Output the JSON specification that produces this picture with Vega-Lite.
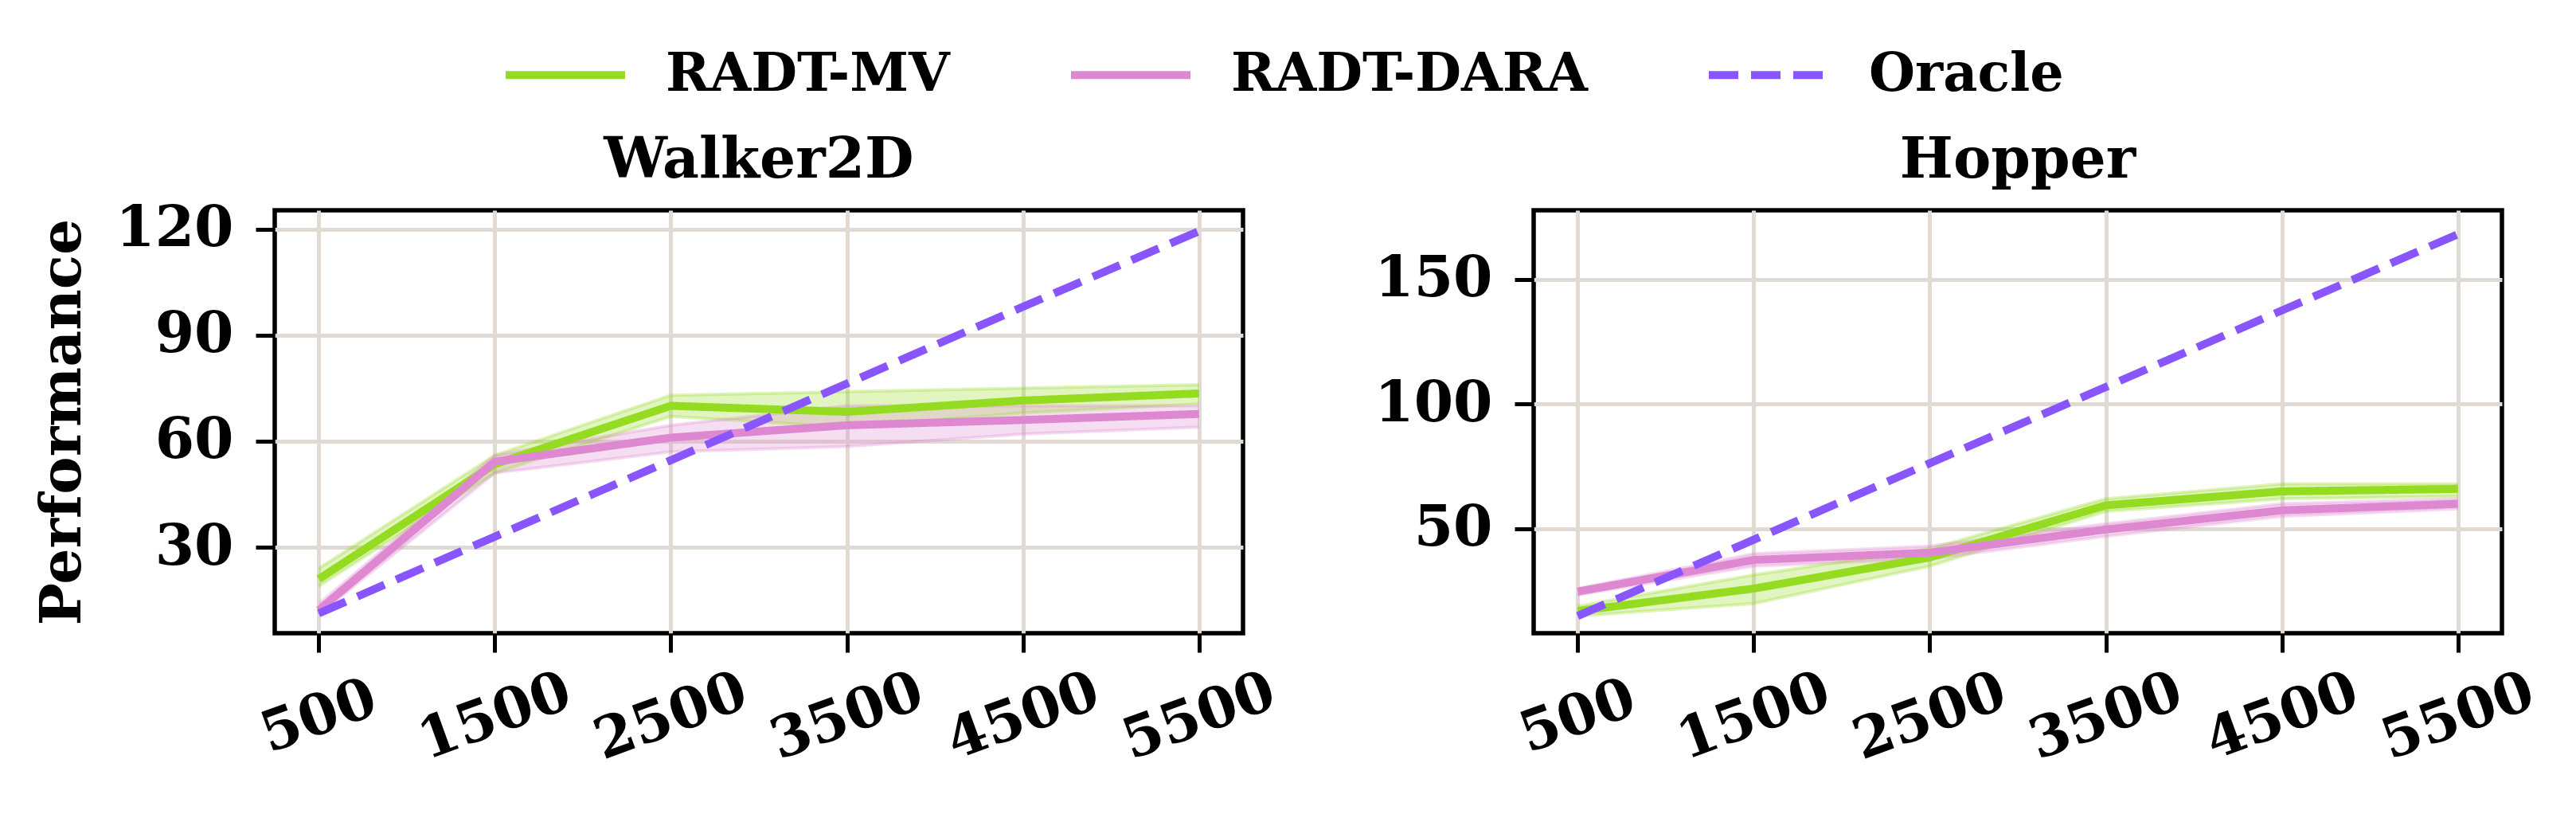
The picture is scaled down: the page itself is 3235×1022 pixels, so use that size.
{
  "$schema": "https://vega.github.io/schema/vega-lite/v6.json",
  "description": "RADT-MV vs RADT-DARA vs Oracle on Walker2D and Hopper",
  "background": "white",
  "padding": {"top": 14, "left": 40, "right": 10, "bottom": 10},
  "data": {
    "values": [
      {"env": "Walker2D", "steps": 500, "series": "RADT-MV", "mean": 21.0, "lo": 19.0, "hi": 24.0},
      {"env": "Walker2D", "steps": 1500, "series": "RADT-MV", "mean": 53.5, "lo": 51.0, "hi": 56.0},
      {"env": "Walker2D", "steps": 2500, "series": "RADT-MV", "mean": 70.0, "lo": 67.0, "hi": 73.0},
      {"env": "Walker2D", "steps": 3500, "series": "RADT-MV", "mean": 68.3, "lo": 64.0, "hi": 74.0},
      {"env": "Walker2D", "steps": 4500, "series": "RADT-MV", "mean": 71.5, "lo": 68.0, "hi": 75.0},
      {"env": "Walker2D", "steps": 5500, "series": "RADT-MV", "mean": 73.5, "lo": 70.5, "hi": 76.0},
      {"env": "Walker2D", "steps": 500, "series": "RADT-DARA", "mean": 12.2, "lo": 11.0, "hi": 14.0},
      {"env": "Walker2D", "steps": 1500, "series": "RADT-DARA", "mean": 54.2, "lo": 51.0, "hi": 56.0},
      {"env": "Walker2D", "steps": 2500, "series": "RADT-DARA", "mean": 61.0, "lo": 57.0, "hi": 64.5},
      {"env": "Walker2D", "steps": 3500, "series": "RADT-DARA", "mean": 64.5, "lo": 58.5, "hi": 70.0},
      {"env": "Walker2D", "steps": 4500, "series": "RADT-DARA", "mean": 66.0, "lo": 62.0, "hi": 70.0},
      {"env": "Walker2D", "steps": 5500, "series": "RADT-DARA", "mean": 67.7, "lo": 64.0, "hi": 70.0},
      {"env": "Walker2D", "steps": 500, "series": "Oracle", "mean": 11.3},
      {"env": "Walker2D", "steps": 1500, "series": "Oracle", "mean": 33.0},
      {"env": "Walker2D", "steps": 2500, "series": "Oracle", "mean": 54.6},
      {"env": "Walker2D", "steps": 3500, "series": "Oracle", "mean": 76.3},
      {"env": "Walker2D", "steps": 4500, "series": "Oracle", "mean": 98.0},
      {"env": "Walker2D", "steps": 5500, "series": "Oracle", "mean": 119.4},
      {"env": "Hopper", "steps": 500, "series": "RADT-MV", "mean": 17.0, "lo": 15.0, "hi": 19.0},
      {"env": "Hopper", "steps": 1500, "series": "RADT-MV", "mean": 26.0, "lo": 20.0, "hi": 31.5},
      {"env": "Hopper", "steps": 2500, "series": "RADT-MV", "mean": 38.5, "lo": 35.0, "hi": 42.0},
      {"env": "Hopper", "steps": 3500, "series": "RADT-MV", "mean": 59.4, "lo": 57.0, "hi": 62.0},
      {"env": "Hopper", "steps": 4500, "series": "RADT-MV", "mean": 65.0, "lo": 62.0, "hi": 68.0},
      {"env": "Hopper", "steps": 5500, "series": "RADT-MV", "mean": 66.0, "lo": 63.0, "hi": 68.0},
      {"env": "Hopper", "steps": 500, "series": "RADT-DARA", "mean": 24.8, "lo": 23.5, "hi": 26.0},
      {"env": "Hopper", "steps": 1500, "series": "RADT-DARA", "mean": 37.5, "lo": 35.0, "hi": 40.0},
      {"env": "Hopper", "steps": 2500, "series": "RADT-DARA", "mean": 40.4, "lo": 38.0, "hi": 43.0},
      {"env": "Hopper", "steps": 3500, "series": "RADT-DARA", "mean": 49.7, "lo": 47.0, "hi": 52.0},
      {"env": "Hopper", "steps": 4500, "series": "RADT-DARA", "mean": 57.4, "lo": 55.0, "hi": 60.0},
      {"env": "Hopper", "steps": 5500, "series": "RADT-DARA", "mean": 60.0, "lo": 58.0, "hi": 62.0},
      {"env": "Hopper", "steps": 500, "series": "Oracle", "mean": 15.0},
      {"env": "Hopper", "steps": 1500, "series": "Oracle", "mean": 45.6},
      {"env": "Hopper", "steps": 2500, "series": "Oracle", "mean": 76.3},
      {"env": "Hopper", "steps": 3500, "series": "Oracle", "mean": 106.9},
      {"env": "Hopper", "steps": 4500, "series": "Oracle", "mean": 137.6},
      {"env": "Hopper", "steps": 5500, "series": "Oracle", "mean": 168.2}
    ]
  },
  "spacing": 365,
  "bounds": "flush",
  "resolve": {"scale": {"y": "independent", "x": "independent"}},
  "hconcat": [
    {
      "title": {"text": "Walker2D", "offset": 14},
      "width": 1216,
      "height": 531,
      "transform": [{"filter": "datum.env === 'Walker2D'"}],
      "layer": [
        {
          "transform": [{"filter": "datum.series !== 'Oracle'"}],
          "mark": {"type": "area", "fillOpacity": 0.28},
          "encoding": {
            "x": {"field": "steps", "type": "quantitative", "scale": {"domain": [250, 5750], "nice": false}},
            "y": {"field": "lo", "type": "quantitative", "scale": {"domain": [5.7, 125.3], "nice": false}},
            "y2": {"field": "hi"},
            "color": {"field": "series", "type": "nominal", "title": null,
                      "scale": {"domain": ["RADT-MV", "RADT-DARA", "Oracle"], "range": ["#95db22", "#dd88d0", "#8855ff"]}}
          }
        },
        {
          "transform": [{"filter": "datum.series !== 'Oracle'"}],
          "mark": {"type": "line", "strokeWidth": 4, "strokeOpacity": 0.3},
          "encoding": {
            "x": {"field": "steps", "type": "quantitative"},
            "y": {"field": "lo", "type": "quantitative"},
            "color": {"field": "series", "type": "nominal", "title": null}
          }
        },
        {
          "transform": [{"filter": "datum.series !== 'Oracle'"}],
          "mark": {"type": "line", "strokeWidth": 4, "strokeOpacity": 0.3},
          "encoding": {
            "x": {"field": "steps", "type": "quantitative"},
            "y": {"field": "hi", "type": "quantitative"},
            "color": {"field": "series", "type": "nominal", "title": null}
          }
        },
        {
          "mark": {"type": "line", "strokeWidth": 10},
          "encoding": {
            "x": {"field": "steps", "type": "quantitative", "title": null,
                  "axis": {"values": [500, 1500, 2500, 3500, 4500, 5500], "format": "d"}},
            "y": {"field": "mean", "type": "quantitative", "title": "Performance",
                  "axis": {"values": [30, 60, 90, 120]}},
            "color": {"field": "series", "type": "nominal", "title": null,
                      "scale": {"domain": ["RADT-MV", "RADT-DARA", "Oracle"], "range": ["#95db22", "#dd88d0", "#8855ff"]}},
            "strokeDash": {"field": "series", "type": "nominal", "title": null,
                           "scale": {"domain": ["RADT-MV", "RADT-DARA", "Oracle"], "range": [[1, 0], [1, 0], [37, 16]]}}
          }
        }
      ]
    },
    {
      "title": {"text": "Hopper", "offset": 26},
      "width": 1216,
      "height": 531,
      "transform": [{"filter": "datum.env === 'Hopper'"}],
      "layer": [
        {
          "transform": [{"filter": "datum.series !== 'Oracle'"}],
          "mark": {"type": "area", "fillOpacity": 0.28},
          "encoding": {
            "x": {"field": "steps", "type": "quantitative", "scale": {"domain": [250, 5750], "nice": false}},
            "y": {"field": "lo", "type": "quantitative", "scale": {"domain": [8.1, 177.8], "nice": false}},
            "y2": {"field": "hi"},
            "color": {"field": "series", "type": "nominal", "title": null}
          }
        },
        {
          "transform": [{"filter": "datum.series !== 'Oracle'"}],
          "mark": {"type": "line", "strokeWidth": 4, "strokeOpacity": 0.3},
          "encoding": {
            "x": {"field": "steps", "type": "quantitative"},
            "y": {"field": "lo", "type": "quantitative"},
            "color": {"field": "series", "type": "nominal", "title": null}
          }
        },
        {
          "transform": [{"filter": "datum.series !== 'Oracle'"}],
          "mark": {"type": "line", "strokeWidth": 4, "strokeOpacity": 0.3},
          "encoding": {
            "x": {"field": "steps", "type": "quantitative"},
            "y": {"field": "hi", "type": "quantitative"},
            "color": {"field": "series", "type": "nominal", "title": null}
          }
        },
        {
          "mark": {"type": "line", "strokeWidth": 10},
          "encoding": {
            "x": {"field": "steps", "type": "quantitative", "title": null,
                  "axis": {"values": [500, 1500, 2500, 3500, 4500, 5500], "format": "d"}},
            "y": {"field": "mean", "type": "quantitative", "title": null,
                  "axis": {"values": [50, 100, 150]}},
            "color": {"field": "series", "type": "nominal", "title": null},
            "strokeDash": {"field": "series", "type": "nominal", "title": null}
          }
        }
      ]
    }
  ],
  "config": {
    "font": "DejaVu Serif",
    "view": {"stroke": "black", "strokeWidth": 5.5},
    "scale": {"zero": false},
    "title": {
      "font": "DejaVu Serif",
      "fontSize": 71,
      "fontWeight": "bold",
      "color": "black",
      "anchor": "middle"
    },
    "axis": {
      "labelFont": "DejaVu Serif",
      "labelFontSize": 71,
      "labelFontWeight": "bold",
      "labelColor": "black",
      "labelLimit": 0,
      "titleFont": "DejaVu Serif",
      "titleFontSize": 71,
      "titleFontWeight": "bold",
      "titleColor": "black",
      "domain": false,
      "tickColor": "black",
      "tickWidth": 5,
      "tickSize": 24,
      "grid": true,
      "gridColor": "#e0dad2",
      "gridWidth": 5,
      "labelFlush": false,
      "labelOverlap": false,
      "labelBound": false
    },
    "axisX": {
      "labelAngle": -20,
      "labelAlign": "center",
      "labelBaseline": "middle",
      "labelPadding": 81
    },
    "axisY": {
      "labelPadding": 28,
      "titlePadding": 30
    },
    "legend": {
      "orient": "none",
      "legendX": 285,
      "legendY": -250,
      "direction": "horizontal",
      "symbolType": "stroke",
      "symbolSize": 22500,
      "symbolStrokeWidth": 10,
      "symbolOpacity": 1,
      "labelFont": "DejaVu Serif",
      "labelFontSize": 66.7,
      "labelFontWeight": "bold",
      "labelColor": "black",
      "labelOffset": 46,
      "labelLimit": 0,
      "columnPadding": 132,
      "padding": 0
    }
  }
}
